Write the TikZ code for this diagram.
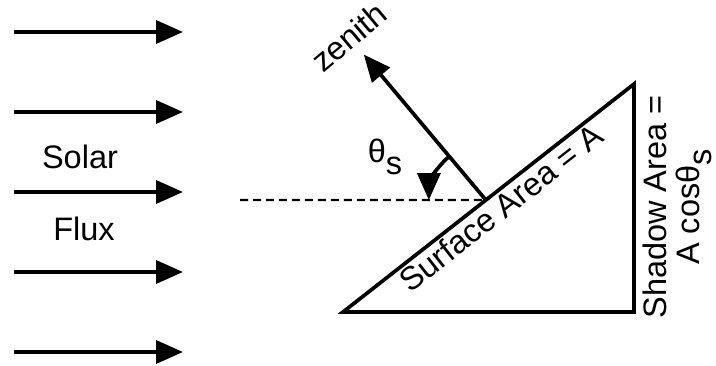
\documentclass[tikz,border=0pt]{standalone}
\usepackage{fontspec}
\setmainfont{Liberation Sans}
\usetikzlibrary{arrows.meta,calc}

\newcommand{\thetasub}{θ\raisebox{-0.35em}{s}}

\begin{document}
\begin{tikzpicture}[x=0.02cm, y=0.02cm, line width=2.1pt,
    ray/.style={-{Triangle[length=0.54cm,width=0.46cm]}},
    lbl/.style={font=\fontsize{18.5}{21}\selectfont, inner sep=1pt}]

    \useasboundingbox (0,0) rectangle (716,365);

    % Solar flux arrows
    \foreach \i/\y in {1/333,2/253,3/173,4/93,5/13} {
        \coordinate (s\i) at (14,\y);
        \coordinate (e\i) at (183,\y);
        \draw[ray] (s\i) -- (e\i);
    }
    \node[lbl] (solar) at (80,208) {Solar};
    \node[lbl] (flux) at (84,136) {Flux};

    % Tilted surface and its shadow
    \coordinate (bl) at (343,53);
    \coordinate (br) at (634,53);
    \coordinate (tr) at (634,281);
    \draw (bl) -- node[lbl, pos=0.51, below, sloped] (surf) {Surface Area = A} (tr)
        -- (br) -- cycle;
    \node[lbl, font=\fontsize{18.5}{19}\selectfont, rotate=90, align=center]
        (shadow) at (677,158) {Shadow Area =\\A cos\thetasub};

    % Zenith and sun angle
    \coordinate (foot) at ($(bl)!0.491!(tr)$);
    \coordinate (dl) at (240,165);
    \draw[line width=1.2pt, dash pattern=on 0.16cm off 0.1cm] (dl) -- (foot);
    \coordinate (zt) at ($(foot)+(130:190)$);
    \draw[ray] (foot) -- (zt);
    \node[lbl, rotate=40] (zen) at (349,328) {zenith};
    \draw[ray] ($(foot)+(130:57)$) arc[start angle=130, end angle=180, radius=57];
    \node[lbl] (theta) at (385,208) {\thetasub};

\end{tikzpicture}
\end{document}
